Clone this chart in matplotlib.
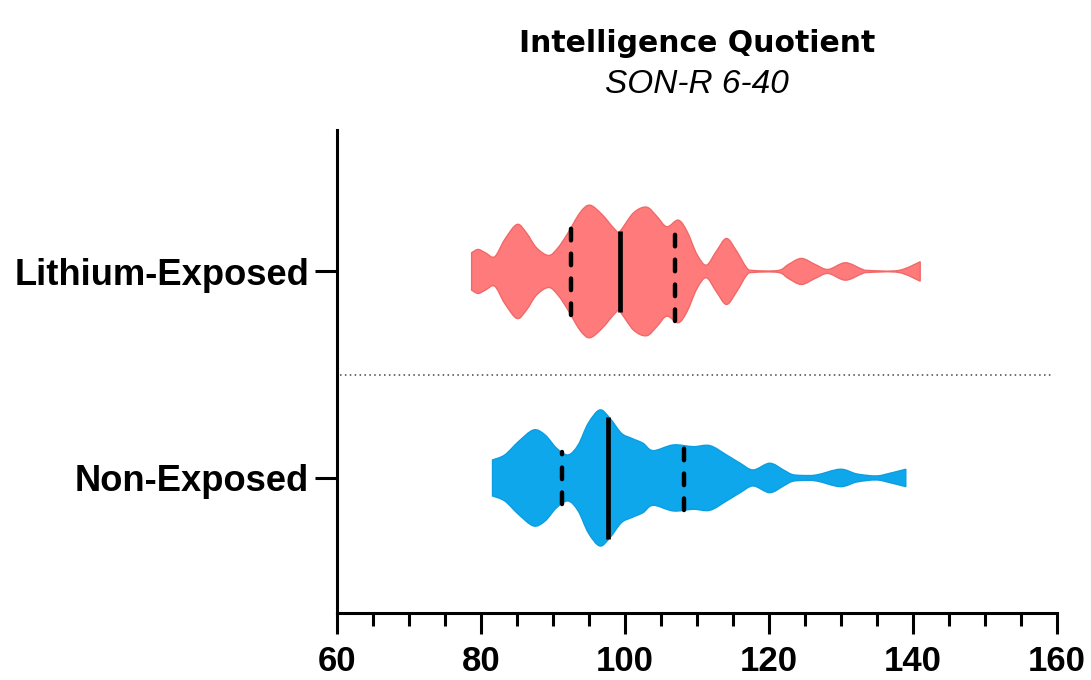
import numpy as np
import matplotlib.pyplot as plt
from matplotlib.path import Path
from matplotlib.patches import PathPatch

# violin outlines: IQ value and relative half-width
li_iq = [78.7, 79.6, 80.6, 81.9, 83.3, 85.0, 86.3, 87.7, 89.4, 90.7, 92.1, 93.75,
         95.1, 96.8, 98.6, 99.3, 101.2, 103.0, 104.4, 105.8, 107.4, 108.6, 110.0,
         111.3, 112.7, 114.1, 115.5, 116.9, 117.8, 121.3, 122.7, 124.5, 126.4,
         128.2, 130.6, 132.9, 133.8, 138.0, 141.0]
li_dens = [18.7, 22, 18.7, 14.7, 32, 47, 38.7, 23.7, 16, 23.7, 38.7, 58.7,
           66.3, 57, 42, 40.3, 58.7, 64.3, 55.3, 44.7, 51.3, 40.3, 17,
           6.3, 20.3, 33, 20.3, 3.7, 1, 1, 7, 13, 7,
           2, 8.7, 2.3, 1, 1, 9.7]

ne_iq = [81.6, 83.3, 85.2, 87.3, 88.9, 90.5, 92.1, 93.5, 94.9, 96.5, 97.9, 99.5,
         100.9, 102.5, 103.9, 106.7, 109.5, 111.8, 114.1, 116.0, 117.8, 120.1,
         122.0, 123.2, 124.6, 126.6, 129.9, 132.2, 134.9, 136.8, 139.0]
ne_dens = [18, 23, 36.3, 48, 43, 29.7, 23, 33, 54.7, 68, 59.7, 44.7,
           39.7, 34.7, 27.3, 33, 31.3, 32.3, 23, 14.7, 8, 14.7,
           8, 3.5, 2.5, 3, 8.7, 4, 2, 4.7, 8.7]

groups = ['Non-Exposed', 'Lithium-Exposed']
medians = [97.7, 99.3]
q1 = [91.3, 92.5]
q3 = [108.2, 106.9]

fill_cols = ['#0fa7ec', '#ff7b7b']
edge_cols = ['#0b9ee0', '#f26868']


def smooth_edge(pts):
    # cubic bezier segments through every point (catmull-rom style handles)
    verts, codes = [], []
    n = len(pts)
    for k in range(n - 1):
        p0 = pts[max(k - 1, 0)]
        p1 = pts[k]
        p2 = pts[k + 1]
        p3 = pts[min(k + 2, n - 1)]
        c1 = p1 + (p2 - p0) / 6
        c2 = p2 - (p3 - p1) / 6
        verts += [c1, c2, p2]
        codes += [Path.CURVE4] * 3
    return verts, codes


def violin_path(xs, w, yc):
    top = np.column_stack([xs, yc + w])
    bot = np.column_stack([xs[::-1], yc - w[::-1]])
    verts = [top[0]]
    codes = [Path.MOVETO]
    v, c = smooth_edge(top)
    verts += v
    codes += c
    verts.append(bot[0])
    codes.append(Path.LINETO)
    v, c = smooth_edge(bot)
    verts += v
    codes += c
    verts.append(top[0])
    codes.append(Path.CLOSEPOLY)
    return Path(np.array(verts), codes)


fig = plt.figure(figsize=(10.91, 6.8), dpi=100)
ax = fig.add_axes([337 / 1091, 67 / 680, 720 / 1091, 483 / 680])

scale = 1 / 206.5
profiles = [(ne_iq, ne_dens), (li_iq, li_dens)]
for i, (xs, ds) in enumerate(profiles):
    xs = np.array(xs)
    w = np.array(ds) * scale
    ax.add_patch(PathPatch(violin_path(xs, w, i), facecolor=fill_cols[i],
                           edgecolor=edge_cols[i], linewidth=1.0, zorder=2))
    hm = np.interp(medians[i], xs, w)
    ax.plot([medians[i], medians[i]], [i - hm, i + hm], color='black', lw=3.4,
            solid_capstyle='butt', zorder=3)
    for q in (q1[i], q3[i]):
        hq = np.interp(q, xs, w)
        ax.plot([q, q], [i - hq, i + hq], color='black', lw=3.2,
                linestyle=(0, (2.6, 3.0)), dash_capstyle='round', zorder=3)

ax.axhline(0.5, xmin=0.004, xmax=0.993, color='#444444', lw=1.1, linestyle=(0, (1, 2.2)), zorder=1)

ax.set_xlim(60, 160)
ax.set_ylim(-0.654, 1.685)
ax.set_xticks(np.arange(60, 161, 20))
ax.set_xticks(np.arange(60, 161, 5), minor=True)
ax.set_yticks([0, 1])
ax.set_yticklabels(groups)

for s in ['top', 'right']:
    ax.spines[s].set_visible(False)
for s in ['left', 'bottom']:
    ax.spines[s].set_linewidth(2.2)

ax.tick_params(axis='x', which='major', length=15, width=2.2, pad=8)
ax.tick_params(axis='x', which='minor', length=9, width=2.2)
ax.tick_params(axis='y', which='major', length=16, width=2.2, pad=4)
for lab in ax.get_xticklabels():
    lab.set_fontfamily('Liberation Sans')
    lab.set_fontweight('bold')
    lab.set_fontsize(25)
for lab in ax.get_yticklabels():
    lab.set_fontfamily('Liberation Sans')
    lab.set_fontweight('bold')
    lab.set_fontsize(26.2)

fig.text(697 / 1091, 1 - 52 / 680, 'Intelligence Quotient', ha='center', va='baseline',
         fontsize=21.5, fontweight='bold', family='DejaVu Sans')
fig.text(697 / 1091, 1 - 93 / 680, 'SON-R 6-40', ha='center', va='baseline',
         fontsize=24, fontstyle='italic', family='Liberation Sans')

fig.savefig('out.png', dpi=100)
